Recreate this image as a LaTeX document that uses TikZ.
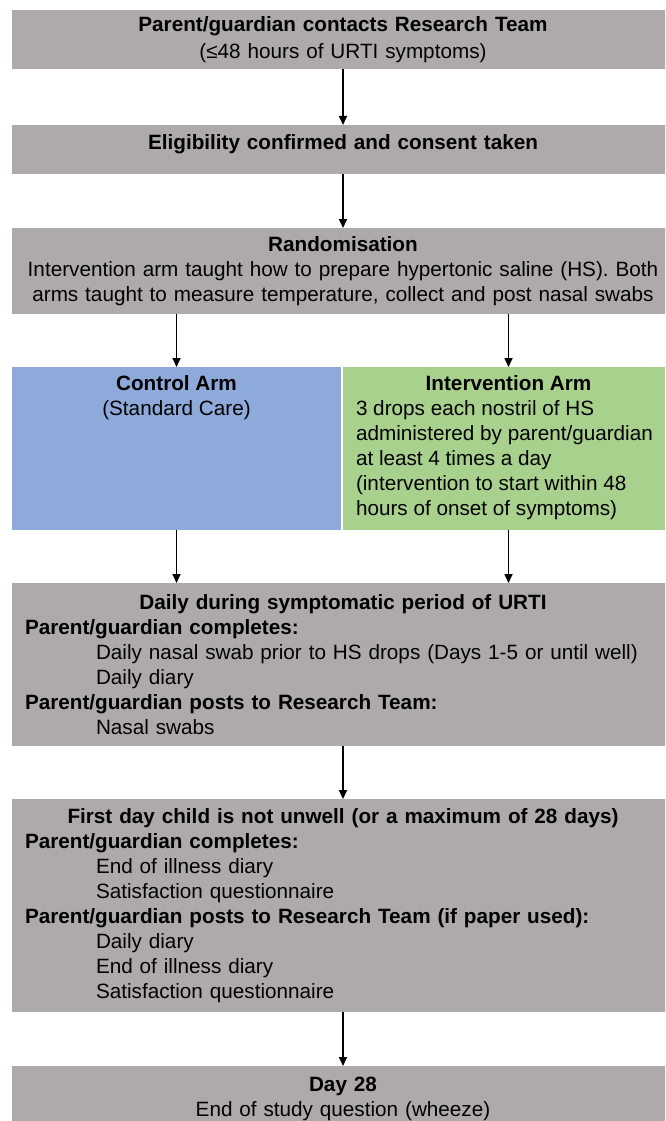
\documentclass[tikz,border=0pt]{standalone}
\usepackage{fontspec}
\setmainfont{Liberation Sans}
\usetikzlibrary{positioning}
\usetikzlibrary{arrows.meta}

\definecolor{boxgrey}{HTML}{AEAAAA}
\definecolor{ctrlblue}{HTML}{8EAADB}
\definecolor{intgreen}{HTML}{A9D18E}

\newcommand{\ind}{\hspace*{71pt}}

\begin{document}
\begin{tikzpicture}[x=1pt,y=1pt,->,>={Triangle[length=9pt,width=8pt]},line width=1.6pt,
		node distance=53pt,font=\fontsize{20.7}{25}\selectfont]
		\tikzstyle{stage}=[fill=boxgrey,inner sep=0pt,outer sep=0pt,minimum width=662pt,text width=636pt,align=center]
		\tikzstyle{arm}=[inner sep=0pt,outer sep=0pt,minimum height=163pt]
		
		\clip[-] (0,0) rectangle (665,-1121);
		
		\node[stage,minimum height=59pt]  (contact) at (343,-39.5) {\textbf{Parent/guardian contacts Research Team}\\[2pt](≤48 hours of URTI symptoms)};
		\node[stage,minimum height=49pt,text depth=14pt] (elig) [below=56pt of contact] {\textbf{Eligibility confirmed and consent taken}};
		\node[stage,minimum height=86pt,text width=652pt]  (rand) [below=54pt of elig] {\textbf{Randomisation}\\Intervention arm taught how to prepare hypertonic saline (HS). Both\\arms taught to measure temperature, collect and post nasal swabs};
		\node[arm,fill=ctrlblue,minimum width=329pt] (ctrl) [below=53pt of rand.south west,anchor=north west]
		{\parbox[c][147pt][t]{303pt}{\centering\textbf{Control Arm}\\(Standard Care)}};
		\node[arm,fill=intgreen,minimum width=331pt] (interv) [right=2pt of ctrl]
		{\parbox[c][147pt][t]{305pt}{\centering\textbf{Intervention Arm}\par\raggedright
				3 drops each nostril of HS\\administered by parent/guardian\\at least 4 times a day\\(intervention to start within 48\\hours of onset of symptoms)}};
		\node[stage,minimum height=163pt,align=left] (daily) [below=53pt of ctrl.south west,anchor=north west]
		{\makebox[\linewidth]{\textbf{Daily during symptomatic period of URTI}}\\
			\textbf{Parent/guardian completes:}\\
			\ind Daily nasal swab prior to HS drops (Days 1-5 or until well)\\
			\ind Daily diary\\
			\textbf{Parent/guardian posts to Research Team:}\\
			\ind Nasal swabs};
		\node[stage,minimum height=213pt,align=left] (wellday) [below=of daily]
		{\makebox[\linewidth]{\textbf{First day child is not unwell (or a maximum of 28 days)}}\\
			\textbf{Parent/guardian completes:}\\
			\ind End of illness diary\\
			\ind Satisfaction questionnaire\\
			\textbf{Parent/guardian posts to Research Team (if paper used):}\\
			\ind Daily diary\\
			\ind End of illness diary\\
			\ind Satisfaction questionnaire};
		\node[stage,minimum height=66pt]  (day28) [below=54pt of wellday] {\textbf{Day 28}\\End of study question (wheeze)};
		
		\path (contact) edge (elig)
		(elig) edge (rand)
		(rand.south -| ctrl) edge (ctrl)
		(rand.south -| interv) edge (interv)
		(ctrl) edge (ctrl |- daily.north)
		(interv) edge (interv |- daily.north)
		(daily) edge (wellday)
		(wellday) edge (day28);
		
\end{tikzpicture}
\end{document}
